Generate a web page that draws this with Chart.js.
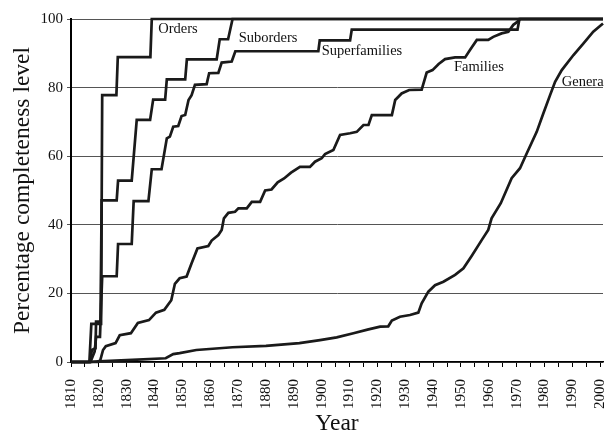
<!DOCTYPE html>
<html>
<head>
<meta charset="utf-8">
<script src="https://cdn.jsdelivr.net/npm/chart.js@4.4.1/dist/chart.umd.min.js"></script>
<style>
  html, body { margin: 0; padding: 0; background: #fff; overflow: hidden; }
  #wrap { width: 614px; height: 433px; position: relative; }
</style>
</head>
<body>
<div id="wrap"><canvas id="c"></canvas></div>
<script>
// years and percentage completeness
const ordersYears = [1810, 1816.6, 1817.3, 1820.8, 1821.2, 1826.3, 1826.8, 1838.5, 1839, 2001];
const ordersPct   = [0, 0, 11.1, 11.1, 77.8, 77.8, 88.9, 88.9, 100, 100];

const subordersYears = [1810, 1816.8, 1817.5, 1818.8, 1819, 1820.6, 1821, 1826.4, 1826.9, 1831.8, 1833.6,
  1838.4, 1839.5, 1843.8, 1844.4, 1851, 1851.6, 1862.3, 1863.4, 1866.4, 1868, 2001];
const subordersPct   = [0, 0, 3.5, 4, 11.8, 11.8, 47.1, 47.1, 52.9, 52.9, 70.6,
  70.6, 76.5, 76.5, 82.4, 82.4, 88.2, 88.2, 94.1, 94.1, 100, 100];

const superfamiliesYears = [1810, 1817, 1818.5, 1819, 1820.4, 1821.2, 1826.4, 1826.9, 1831.8, 1832.5, 1837.8,
  1839, 1842.5, 1844.4, 1845.5, 1846.7, 1848.5, 1849.7, 1851, 1852.2, 1853.3, 1854.5, 1858.7, 1859.6,
  1862.9, 1864.1, 1867.7, 1869, 1898.8, 1899.3, 1910.2, 1910.8, 1970.3, 1971, 2001];
const superfamiliesPct   = [0, 0, 3.1, 7.3, 7.3, 25, 25, 34.4, 34.4, 46.9, 46.9,
  56.2, 56.2, 65.2, 65.7, 68.6, 68.8, 71.7, 72, 76.4, 77.8, 80.8, 81, 84.2,
  84.3, 87.3, 87.6, 90.6, 90.6, 93.75, 93.75, 96.9, 96.9, 100, 100];

const familiesYears = [1810, 1819.5, 1820.5, 1821.5, 1822.5, 1826, 1827.5, 1831.5, 1834, 1838, 1840.5,
  1843.5, 1846, 1847.3, 1849, 1851.5, 1853.3, 1855.4, 1859.3, 1860.5, 1862.9, 1864.1, 1864.9, 1866.5,
  1868.9, 1870.1, 1873.1, 1874.9, 1877.9, 1879.7, 1882, 1884.2, 1886.5, 1889, 1892.2, 1895.8, 1897.6,
  1900, 1901.2, 1904.2, 1906.6, 1910.2, 1912.6, 1915, 1916.8, 1918, 1925.2, 1926.4, 1928.7, 1931.4,
  1935.9, 1937.7, 1939.8, 1942, 1944.3, 1947.9, 1951.5, 1953.3, 1955.7, 1959.8, 1961.6, 1964.6, 1967,
  1968.8, 1970, 1971.2, 2001];
const familiesPct   = [0, 0, 0.5, 3.5, 4.6, 5.5, 7.8, 8.4, 11.4, 12.2, 14.4,
  15.2, 18, 22.8, 24.4, 24.9, 28.8, 33.1, 33.8, 35.4, 37, 38.5, 41.9, 43.5,
  43.8, 44.8, 44.8, 46.7, 46.7, 50, 50.3, 52.4, 53.5, 55.2, 56.9, 56.9, 58.4,
  59.4, 60.6, 61.8, 66.2, 66.7, 67.1, 69.1, 69.1, 72, 72, 76.4, 78.3, 79.3,
  79.4, 84.4, 85.1, 86.9, 88.3, 88.8, 88.8, 91, 93.9, 93.9, 94.8, 95.8, 96.3,
  98.3, 99, 100, 100];

const generaYears = [1810, 1816, 1820, 1832, 1844, 1846.7, 1849, 1855, 1868, 1880, 1892, 1899.4, 1905.4,
  1911.4, 1916.8, 1921, 1923.9, 1925.2, 1928.1, 1931.7, 1934.7, 1935.9, 1938.3, 1940.7, 1943.7, 1947.9,
  1950.9, 1953.9, 1957.5, 1959.8, 1961, 1964.3, 1968.2, 1971.2, 1973.6, 1977.2, 1979.6, 1982, 1983.8,
  1986.2, 1990.4, 1994, 1997.5, 2001];
const generaPct   = [0, 0, 0.2, 0.6, 1.1, 2.3, 2.6, 3.5, 4.3, 4.7, 5.5, 6.4, 7.2,
  8.4, 9.5, 10.3, 10.4, 12.1, 13.2, 13.7, 14.4, 17.1, 20.5, 22.4, 23.4, 25.4,
  27.3, 31, 35.6, 38.5, 41.9, 46.3, 53.6, 56.5, 60.8, 67.1, 72.5, 77.8, 81.7,
  85.1, 89.5, 92.9, 96.3, 98.7];

const seriesNames = ['Orders', 'Suborders', 'Superfamilies', 'Families', 'Genera'];
// where each name sits (year, percent) - left/middle of the text
const nameYears = [1841.3, 1870.2, 1900, 1947.5, 1986.2];
const namePct   = [97.1, 94.3, 90.6, 86.0, 81.6];

const yTicks = [0, 20, 40, 60, 80, 100];

function pts(xs, ys) {
  return xs.map((x, i) => ({ x: x, y: ys[i] }));
}

const serif = "'Liberation Serif', 'Times New Roman', serif";

const lineStyle = {
  borderColor: '#1a1a1a',
  borderWidth: 2.7,
  pointRadius: 0,
  tension: 0,
  fill: false,
  clip: 4,
  borderJoinStyle: 'miter'
};

const seriesData = [
  pts(ordersYears, ordersPct),
  pts(subordersYears, subordersPct),
  pts(superfamiliesYears, superfamiliesPct),
  pts(familiesYears, familiesPct),
  pts(generaYears, generaPct)
];

const nameLabels = {
  id: 'nameLabels',
  afterDatasetsDraw(chart) {
    const ctx = chart.ctx, xs = chart.scales.x, ys = chart.scales.y;
    ctx.save();
    ctx.font = '14.5px ' + serif;
    ctx.fillStyle = '#111';
    ctx.textAlign = 'left';
    ctx.textBaseline = 'middle';
    seriesNames.forEach((n, i) => {
      ctx.fillText(n, xs.getPixelForValue(nameYears[i]), ys.getPixelForValue(namePct[i]));
    });
    ctx.restore();
  }
};

new Chart(document.getElementById('c'), {
  type: 'line',
  data: {
    datasets: seriesNames.map((n, i) => Object.assign({ label: n, data: seriesData[i] }, lineStyle))
  },
  options: {
    responsive: true,
    maintainAspectRatio: false,
    animation: false,
    parsing: false,
    layout: { padding: { top: 19, right: 11, left: 0, bottom: 0 } },
    plugins: {
      legend: { display: false },
      tooltip: { enabled: false }
    },
    scales: {
      x: {
        type: 'linear',
        min: 1810,
        max: 2001,
        afterFit(s) { s.height = 71; s.paddingRight = 0; s.paddingLeft = 0; },
        border: { color: '#000', width: 1.5 },
        grid: { drawOnChartArea: false, color: '#000', tickLength: 5, lineWidth: 1 },
        ticks: {
          stepSize: 5,
          autoSkip: false,
          includeBounds: false,
          maxRotation: 90,
          minRotation: 90,
          padding: 12,
          color: '#111',
          font: { family: serif, size: 15 },
          callback: v => (v % 10 === 0 ? String(v) : '')
        },
        title: {
          display: true,
          text: 'Year',
          color: '#111',
          font: { family: serif, size: 23.5 },
          padding: { top: 0, bottom: -5 }
        }
      },
      y: {
        min: 0,
        max: 100,
        afterFit(s) { s.width = 71; s.paddingTop = 0; s.paddingBottom = 0; },
        afterBuildTicks(s) { s.ticks = yTicks.map(v => ({ value: v })); },
        border: { color: '#000', width: 2 },
        grid: { color: '#555', lineWidth: 1, tickLength: 4 },
        ticks: {
          padding: 4,
          color: '#111',
          font: { family: serif, size: 15 }
        },
        title: {
          display: true,
          text: 'Percentage completeness level',
          color: '#111',
          font: { family: serif, size: 23.5 },
          padding: { top: 9, bottom: 0 }
        }
      }
    }
  },
  plugins: [nameLabels]
});
</script>
</body>
</html>
